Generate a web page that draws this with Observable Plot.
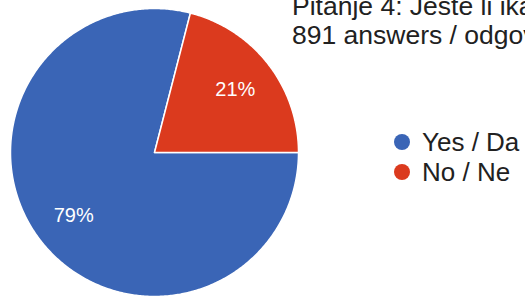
<!DOCTYPE html>
<html>
<head>
<meta charset="utf-8">
<script src="https://cdn.jsdelivr.net/npm/d3@7"></script>
<script src="https://cdn.jsdelivr.net/npm/@observablehq/plot@0.6"></script>
<style>
  html, body { margin: 0; padding: 0; background: #fff; }
  #wrap { position: relative; width: 525px; height: 298px; overflow: hidden; font-family: "Liberation Sans", Arial, sans-serif; }
  #chart { position: absolute; left: 0; top: 0; }
  #title { position: absolute; left: 292px; top: -8px; font-size: 26.5px; line-height: 29px; color: #212121; white-space: nowrap; }
  #legend { position: absolute; left: 394px; top: 127px; font-size: 26px; line-height: 30px; color: #212121; white-space: nowrap; }
  .row { display: flex; align-items: center; height: 30px; }
  .dot { width: 16px; height: 16px; border-radius: 50%; margin-right: 12px; flex: none; }
</style>
</head>
<body>
<div id="wrap">
  <div id="chart"></div>
  <div id="title"></div>
  <div id="legend"></div>
</div>
<script>
const categories = ["Yes / Da", "No / Ne"];
const counts = [704, 187];
const percentLabels = ["79%", "21%"];
const colors = ["#3a65b6", "#db3a1e"];
const titleLines = ["Pitanje 4: Jeste li ikada", "891 answers / odgovora"];

// Pie geometry from the data (d3 angles: 0 at 12 o'clock, clockwise)
const start = Math.PI / 2;
const arcs = d3.pie().sort(null).startAngle(start).endAngle(start + 2 * Math.PI)(counts);

const slicePoints = [];
arcs.forEach((a, i) => {
  const cat = categories[i];
  slicePoints.push({cat, x: 0, y: 0});
  const n = Math.max(2, Math.ceil((a.endAngle - a.startAngle) / 0.01));
  for (let k = 0; k <= n; k++) {
    const t = a.startAngle + (a.endAngle - a.startAngle) * k / n;
    slicePoints.push({cat, x: Math.sin(t), y: Math.cos(t)});
  }
});

const labelData = arcs.map((a, i) => {
  const m = (a.startAngle + a.endAngle) / 2;
  return {label: percentLabels[i], x: 0.71 * Math.sin(m), y: 0.71 * Math.cos(m)};
});

const plot = Plot.plot({
  width: 525,
  height: 298,
  margin: 0,
  style: {background: "transparent", fontFamily: "'Liberation Sans', Arial, sans-serif"},
  x: {domain: [-1, 1], range: [10, 298], axis: null},
  y: {domain: [-1, 1], range: [296, 8], axis: null},
  color: {domain: categories, range: colors},
  marks: [
    Plot.line(slicePoints, {x: "x", y: "y", z: "cat", fill: "cat", stroke: "white", strokeWidth: 1.5, curve: "linear-closed"}),
    Plot.text(labelData, {x: "x", y: "y", text: "label", fill: "white", fontSize: 20})
  ]
});
document.getElementById("chart").appendChild(plot);

const title = document.getElementById("title");
title.innerHTML = titleLines.map(t => `<div>${t}</div>`).join("");

const legend = document.getElementById("legend");
legend.innerHTML = categories.map((c, i) =>
  `<div class="row"><span class="dot" style="background:${colors[i]}"></span><span>${c}</span></div>`
).join("");
</script>
</body>
</html>
